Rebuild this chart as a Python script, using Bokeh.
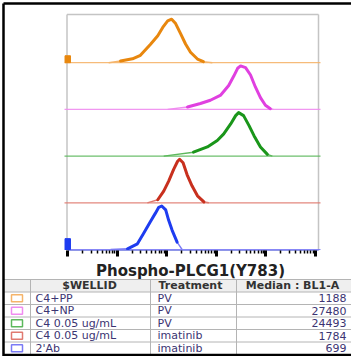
from bokeh.plotting import figure
from bokeh.models import Range1d, LinearScale, LogAxis, FixedTicker, ColumnDataSource, CustomJSTickFormatter
from bokeh.core.properties import value
from bokeh.embed import file_html
from bokeh.resources import INLINE

# ---------------- data ----------------
wells = ["C4+PP", "C4+NP", "C4 0.05 ug/mL", "C4 0.05 ug/mL", "2'Ab"]
treatments = ["PV", "PV", "PV", "imatinib", "imatinib"]
medians = ["1188", "27480", "24493", "1784", "699"]
headers = ["$WELLID", "Treatment", "Median : BL1-A"]
title = "Phospho-PLCG1(Y783)"

# histogram outlines: log10(BL1-A) positions and normalised counts
orange_log = [1.83, 2.07, 2.31, 2.47, 2.67, 2.82, 2.92, 3.02, 3.10, 3.18, 3.28, 3.38, 3.48, 3.62, 3.74, 3.92]
orange_h = [0, 0.04, 0.09, 0.17, 0.42, 0.62, 0.81, 0.96, 1.0, 0.90, 0.67, 0.43, 0.24, 0.085, 0.025, 0]
magenta_log = [3.02, 3.42, 3.68, 3.88, 4.09, 4.25, 4.35, 4.43, 4.49, 4.59, 4.69, 4.79, 4.89, 4.99, 5.09, 5.15]
magenta_h = [0, 0.055, 0.135, 0.21, 0.33, 0.55, 0.76, 0.945, 1.0, 0.96, 0.79, 0.51, 0.27, 0.095, 0.017, 0]
green_log = [2.94, 3.54, 3.82, 4.02, 4.15, 4.29, 4.39, 4.45, 4.55, 4.66, 4.76, 4.89, 5.03, 5.13]
green_h = [0, 0.09, 0.21, 0.36, 0.51, 0.74, 0.93, 1.0, 0.93, 0.70, 0.47, 0.21, 0.04, 0]
red_log = [2.61, 2.82, 2.94, 3.04, 3.14, 3.22, 3.26, 3.33, 3.41, 3.51, 3.62, 3.75, 3.85]
red_h = [0, 0.07, 0.27, 0.5, 0.77, 0.955, 1.0, 0.92, 0.65, 0.39, 0.16, 0.02, 0]
blue_log = [1.87, 2.21, 2.41, 2.53, 2.67, 2.77, 2.84, 2.90, 2.98, 3.04, 3.11, 3.21, 3.31]
blue_h = [0, 0.016, 0.13, 0.36, 0.64, 0.83, 0.97, 1.0, 0.91, 0.67, 0.44, 0.17, 0]
# pile-up of events in the first channel (fraction of peak)
edge_pile = [0.16, 0, 0, 0, 0.25]

curves_log = [orange_log, magenta_log, green_log, red_log, blue_log]
curves_h = [orange_h, magenta_h, green_h, red_h, blue_h]

# ---------------- styles / layout ----------------
curve_colors = ["#E8870E", "#E040E0", "#1A961A", "#C8301E", "#1E3CF0"]
light_colors = ["#F5B46A", "#F08CF0", "#5CB85C", "#E07A70", "#7A7AF5"]

W, H = 351, 356
PX_DEC = 49.6          # pixels per decade
X10 = 67.0             # pixel of 10^1
lo = 1 - X10 / PX_DEC
hi = 1 + (W - X10) / PX_DEC
base_bottom = 249.0
spacing = 46.7
peak_px = 43.5
plot_l, plot_r, plot_t, plot_b = 66.5, 318.0, 14.0, 250.0

p = figure(width=W, height=H, x_axis_type="log", x_axis_location=None, y_axis_location=None,
           x_range=Range1d(10 ** lo, 10 ** hi), y_range=Range1d(H, 0),
           output_backend="svg", toolbar_location=None, outline_line_color=None,
           min_border=0, min_border_left=0, min_border_right=0, min_border_top=0, min_border_bottom=0,
           background_fill_color="white", border_fill_color="white")
p.grid.visible = False
p.extra_x_ranges = {"px": Range1d(0, W)}
p.extra_x_scales = {"px": LinearScale()}

# plot frame (grey)
p.segment(x0=[plot_l, plot_l, plot_r], y0=[plot_b, plot_t, plot_t],
          x1=[plot_l, plot_r, plot_r], y1=[plot_t, plot_t, plot_b],
          line_color="#c4c4c4", line_width=1.5, x_range_name="px")

# ridges
n = len(curves_log)
for i in range(n):
    base = base_bottom - (n - 1 - i) * spacing
    # baseline
    p.line(x=[10 ** ((64 - X10) / PX_DEC + 1), 10 ** ((320 - X10) / PX_DEC + 1)], y=[base, base],
           line_color=light_colors[i], line_width=1.2, line_alpha=0.9)
    xs = [10 ** v for v in curves_log[i]]
    ys = [base - h * peak_px for h in curves_h[i]]
    p.line(x=xs, y=ys, line_color=light_colors[i], line_width=1.4, line_join="round")
    p.line(x=xs[1:-1], y=ys[1:-1], line_color=curve_colors[i], line_width=3, line_join="round",
           line_cap="round")
    if edge_pile[i] > 0:
        p.quad(left=10 ** 0.95, right=10 ** 1.06, bottom=base, top=base - edge_pile[i] * peak_px,
               fill_color=curve_colors[i], line_color=curve_colors[i], line_width=1)

# log axis with only tick marks
ax = LogAxis(fixed_location=plot_b, bounds=(10, 10 ** 6.06),
             ticker=FixedTicker(ticks=[10 ** k for k in range(1, 7)],
                                minor_ticks=[m * 10 ** k for k in range(1, 6) for m in range(2, 10)]),
             formatter=CustomJSTickFormatter(code="return ''"),
             axis_line_color="#8f96e8", axis_line_width=1,
             major_tick_line_color="black", major_tick_line_width=3, major_tick_out=6, major_tick_in=0,
             minor_tick_line_color="black", minor_tick_line_width=1.5, minor_tick_out=3, minor_tick_in=0,
             major_label_text_font_size="0px", major_label_standoff=0)
p.add_layout(ax, "below")

# title under the histogram
p.text(x=[190], y=[270], text=[title], text_font=value("DejaVu Sans"), text_font_style="bold",
       text_font_size="15px", text_align="center", text_baseline="middle", text_color="#222222",
       x_range_name="px")

# ---------------- table ----------------
t_top = 279.0
row_h = 12.5
col_x = [3, 30, 150, 236, 351]
rows_y = [t_top + row_h * k for k in range(7)]

p.quad(left=[3], right=[W], top=[t_top], bottom=[t_top + row_h], fill_color="#efefef",
       line_color=None, x_range_name="px")
p.segment(x0=[3] * 7, x1=[W] * 7, y0=rows_y, y1=rows_y, line_color="#b4b4b4", line_width=1,
          x_range_name="px")
p.segment(x0=col_x[1:4], x1=col_x[1:4], y0=[t_top] * 3, y1=[rows_y[-1]] * 3, line_color="#b4b4b4",
          line_width=1, x_range_name="px")

hdr = ColumnDataSource(dict(x=[89, 190, 292], y=[t_top + row_h / 2] * 3, t=headers))
p.text(x="x", y="y", text="t", source=hdr, text_font=value("DejaVu Sans"), text_font_style="bold",
       text_font_size="11px", text_align="center", text_baseline="middle", text_color="#333333",
       x_range_name="px")

row_centers = [t_top + row_h * (k + 1.5) for k in range(n)]
src = ColumnDataSource(dict(y=row_centers, well=wells, tr=treatments, med=medians,
                            col=light_colors))
p.rect(x=16.5, y="y", width=11, height=7, source=src, fill_color="white", line_color="col",
       line_width=1.5, x_range_name="px")
common = dict(source=src, text_font=value("DejaVu Sans"), text_font_size="11px",
              text_baseline="middle", text_color="#3b3472", x_range_name="px")
p.text(x=35, y="y", text="well", text_align="left", **common)
p.text(x=157, y="y", text="tr", text_align="left", **common)
p.text(x=346, y="y", text="med", text_align="right", **common)

# outer black border
p.segment(x0=[3, 3, 3], y0=[3, 3, 354.5], x1=[W, 3, W], y1=[3, H, 354.5],
          line_color="black", line_width=2.5, x_range_name="px")

open("out.html", "w").write(file_html(p, INLINE))
